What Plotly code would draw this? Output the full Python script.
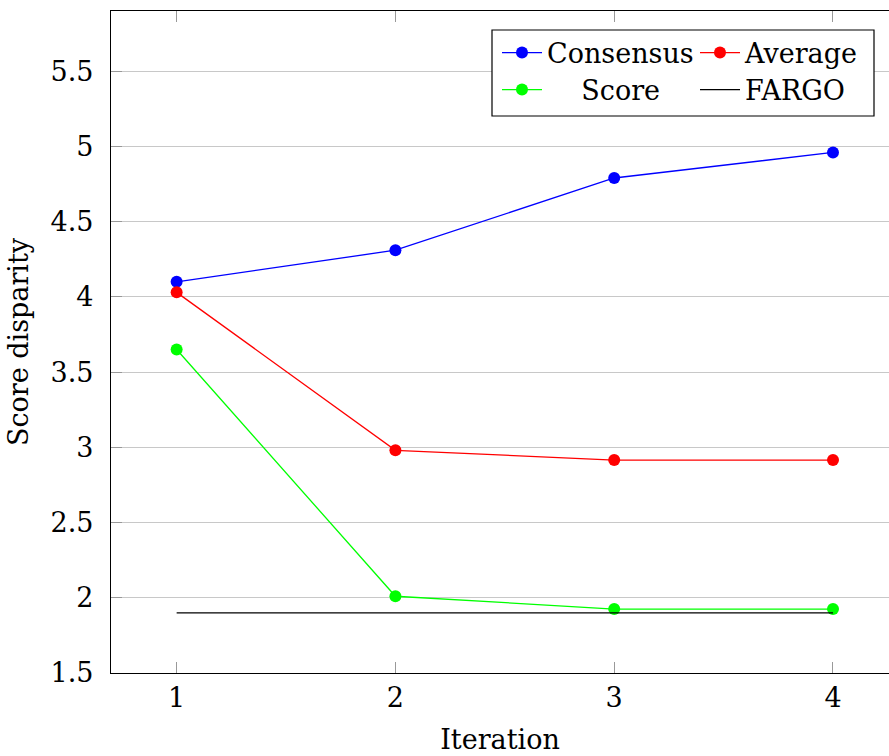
import plotly.graph_objects as go

iterations = [1, 2, 3, 4]
consensus = [4.10, 4.31, 4.79, 4.96]
average = [4.03, 2.98, 2.915, 2.915]
score = [3.65, 2.01, 1.925, 1.925]
fargo = [1.90, 1.90, 1.90, 1.90]

y_ticks = [1.5, 2, 2.5, 3, 3.5, 4, 4.5, 5, 5.5]
y_tick_text = ["1.5", "2", "2.5", "3", "3.5", "4", "4.5", "5", "5.5"]

FONT = "'DejaVu Serif', 'Liberation Serif', serif"
FS = 27

W, H = 889, 756
ML, MT, MB, MR = 111, 11, 83, 0
PW, PH = W - ML - MR, H - MT - MB


def px_x(p):
    return (p - ML) / PW


def px_y(p):
    return (MT + PH - p) / PH


fig = go.Figure()

marker = dict(size=12, symbol="circle")
fig.add_trace(go.Scatter(x=iterations, y=consensus, name="Consensus", mode="lines+markers",
                         line=dict(color="#0000ff", width=1.3), marker=dict(color="#0000ff", **marker),
                         legend="legend"))
fig.add_trace(go.Scatter(x=iterations, y=average, name="Average", mode="lines+markers",
                         line=dict(color="#ff0000", width=1.3), marker=dict(color="#ff0000", **marker),
                         legend="legend"))
# the legend cell for "Score" is centred in its column
fig.add_trace(go.Scatter(x=iterations, y=score, name="\u00a0\u00a0\u00a0\u00a0Score", mode="lines+markers",
                         line=dict(color="#00ff00", width=1.3), marker=dict(color="#00ff00", **marker),
                         legend="legend2"))
fig.add_trace(go.Scatter(x=iterations, y=fargo, name="FARGO", mode="lines",
                         line=dict(color="#000000", width=1.3),
                         legend="legend2"))

legend_common = dict(
    orientation="h",
    font=dict(family=FONT, size=FS, color="black"),
    bgcolor="rgba(0,0,0,0)",
    borderwidth=0,
    entrywidth=143,
    entrywidthmode="pixels",
    itemwidth=40,
    tracegroupgap=0,
    xanchor="left",
    yanchor="middle",
)

fig.update_layout(
    width=W, height=H,
    margin=dict(l=ML, r=MR, t=MT, b=MB, autoexpand=False),
    paper_bgcolor="white",
    plot_bgcolor="white",
    font=dict(family=FONT, size=FS, color="black"),
    legend=dict(x=px_x(497), y=px_y(53), **legend_common),
    legend2=dict(x=px_x(497), y=px_y(90), **legend_common),
    xaxis=dict(
        range=[0.7, 4.256],
        tickvals=iterations,
        ticktext=[str(i) for i in iterations],
        ticks="inside", ticklen=11, tickcolor="#999999", tickwidth=1,
        showline=True, linecolor="black", linewidth=1.3,
        mirror="ticks",
        showgrid=False, zeroline=False,
        ticklabelstandoff=0,
        title=dict(text="Iteration", standoff=18, font=dict(family=FONT, size=FS)),
        tickfont=dict(family=FONT, size=FS),
    ),
    yaxis=dict(
        range=[1.5, 5.9],
        tickvals=y_ticks,
        ticktext=y_tick_text,
        ticks="inside", ticklen=11, tickcolor="#999999", tickwidth=1,
        showline=True, linecolor="black", linewidth=1.3,
        mirror=False,
        showgrid=True, gridcolor="#c8c8c8", gridwidth=1,
        zeroline=False,
        ticklabelstandoff=11,
        title=dict(text="Score disparity", standoff=14, font=dict(family=FONT, size=FS)),
        tickfont=dict(family=FONT, size=FS),
    ),
    shapes=[dict(type="rect", xref="paper", yref="paper",
                 x0=px_x(492), x1=px_x(874), y0=px_y(116), y1=px_y(30),
                 line=dict(color="black", width=1.2), fillcolor="white", layer="above")],
)

fig.write_html("out.html")
